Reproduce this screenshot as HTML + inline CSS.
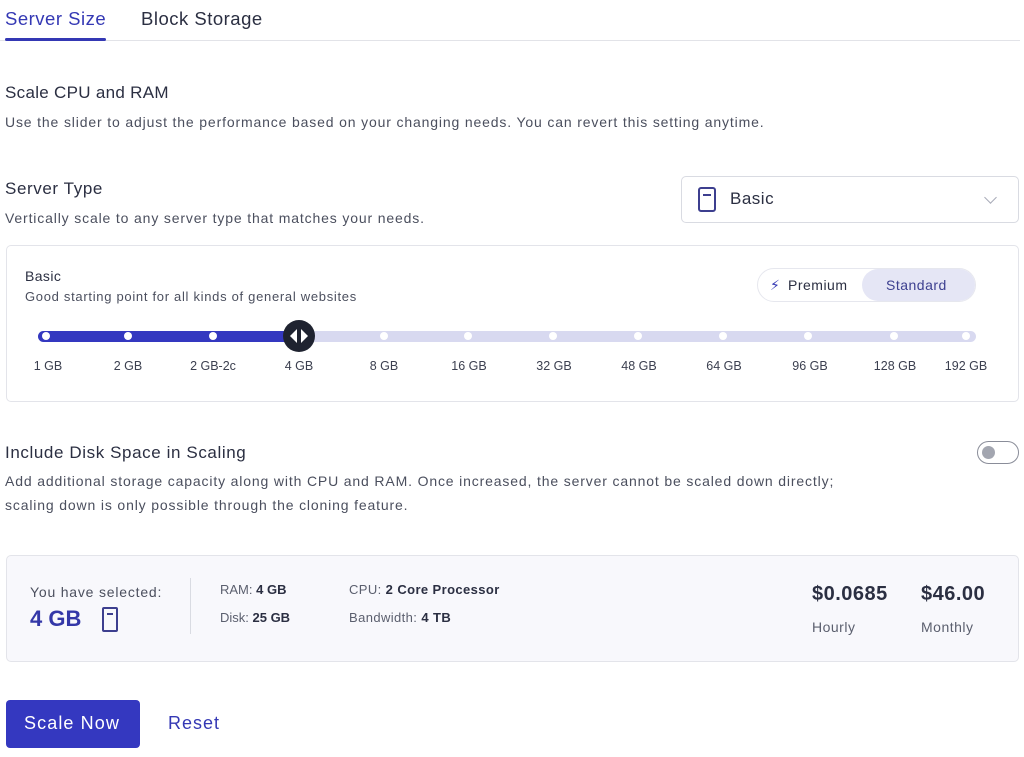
<!DOCTYPE html>
<html><head><meta charset="utf-8"><style>
*{margin:0;padding:0;box-sizing:border-box}
body{width:1024px;height:757px;background:#fff;font-family:"Liberation Sans",sans-serif;color:#2b2f42;position:relative;overflow:hidden}
.a{position:absolute;white-space:nowrap}
.t{font-size:17px;color:#2b2f42;letter-spacing:0.3px}
.s{font-size:14px;color:#4b4f5e;letter-spacing:0.85px}
.lab{position:absolute;top:359px;font-size:12.5px;color:#3c4050;transform:translateX(-50%)}
.dot{position:absolute;top:332px;width:8px;height:8px;border-radius:50%;background:#fff;transform:translateX(-50%)}
</style></head><body>
<div class="a" style="left:5px;top:8px;font-size:18.5px;color:#3438b4;letter-spacing:0.5px">Server Size</div>
<div class="a" style="left:141px;top:8px;font-size:18.5px;color:#2b2f42;letter-spacing:0.5px">Block Storage</div>
<div class="a" style="left:0;top:40px;width:1020px;height:1px;background:#e2e3e8"></div>
<div class="a" style="left:5px;top:38px;width:101px;height:3px;background:#3438b4;border-radius:2px"></div>

<div class="a t" style="left:5px;top:83px">Scale CPU and RAM</div>
<div class="a s" style="left:5px;top:114px">Use the slider to adjust the performance based on your changing needs. You can revert this setting anytime.</div>

<div class="a t" style="left:5px;top:179px;letter-spacing:0.6px">Server Type</div>
<div class="a s" style="left:5px;top:210px">Vertically scale to any server type that matches your needs.</div>

<div class="a" style="left:681px;top:176px;width:338px;height:47px;border:1px solid #d9dbe2;border-radius:5px"></div>
<div class="a" style="left:698px;top:187px;width:18px;height:25px;border:2.5px solid #3d3f8f;border-radius:3px"></div>
<div class="a" style="left:703px;top:194px;width:8px;height:2px;background:#3d3f8f"></div>
<div class="a" style="left:730px;top:189px;font-size:17px;color:#2b2f42;letter-spacing:0.5px">Basic</div>
<div class="a" style="left:986px;top:193px;width:9px;height:9px;border-right:1.5px solid #a8abb8;border-bottom:1.5px solid #a8abb8;transform:rotate(45deg)"></div>

<div class="a" style="left:6px;top:245px;width:1013px;height:157px;border:1px solid #e3e4ea;border-radius:5px"></div>
<div class="a" style="left:25px;top:268px;font-size:14px;color:#2b2f42;letter-spacing:0.4px">Basic</div>
<div class="a" style="left:25px;top:289px;font-size:13px;color:#4b4f5e;letter-spacing:0.7px">Good starting point for all kinds of general websites</div>

<div class="a" style="left:757px;top:268px;width:219px;height:34px;border:1px solid #e6e7ee;border-radius:17px"></div>
<div class="a" style="left:862px;top:269px;width:113px;height:32px;background:#e5e6f5;border-radius:16px"></div>
<div class="a" style="left:770px;top:277px;font-size:14px;color:#3438b4">&#9889;&#xFE0E;</div>
<div class="a" style="left:788px;top:277px;font-size:14px;color:#2b2f42;letter-spacing:0.5px">Premium</div>
<div class="a" style="left:886px;top:277px;font-size:14px;color:#3d4090;letter-spacing:0.5px">Standard</div>

<div class="a" style="left:38px;top:331px;width:938px;height:11px;background:#d8d9f0;border-radius:6px"></div>
<div class="a" style="left:38px;top:331px;width:262px;height:11px;background:#3438c0;border-radius:6px 0 0 6px"></div>
<div class="dot" style="left:46px"></div><div class="dot" style="left:128px"></div><div class="dot" style="left:213px"></div>
<div class="dot" style="left:384px"></div><div class="dot" style="left:468px"></div><div class="dot" style="left:553px"></div>
<div class="dot" style="left:638px"></div><div class="dot" style="left:723px"></div><div class="dot" style="left:808px"></div>
<div class="dot" style="left:894px"></div><div class="dot" style="left:966px"></div>
<div class="a" style="left:283px;top:320px;width:32px;height:32px;border-radius:50%;background:#1f2330"></div>
<div class="a" style="left:290px;top:329px;width:0;height:0;border-top:7px solid transparent;border-bottom:7px solid transparent;border-right:7px solid #fff"></div>
<div class="a" style="left:301px;top:329px;width:0;height:0;border-top:7px solid transparent;border-bottom:7px solid transparent;border-left:7px solid #fff"></div>

<div class="lab" style="left:48px">1 GB</div><div class="lab" style="left:128px">2 GB</div><div class="lab" style="left:213px">2 GB-2c</div>
<div class="lab" style="left:299px">4 GB</div><div class="lab" style="left:384px">8 GB</div><div class="lab" style="left:469px">16 GB</div>
<div class="lab" style="left:554px">32 GB</div><div class="lab" style="left:639px">48 GB</div><div class="lab" style="left:724px">64 GB</div>
<div class="lab" style="left:810px">96 GB</div><div class="lab" style="left:895px">128 GB</div><div class="lab" style="left:966px">192 GB</div>

<div class="a t" style="left:5px;top:443px;letter-spacing:0.6px">Include Disk Space in Scaling</div>
<div class="a" style="left:977px;top:441px;width:42px;height:23px;border:1.5px solid #8a8d99;border-radius:12px"></div>
<div class="a" style="left:982px;top:446px;width:13px;height:13px;border-radius:50%;background:#a3a6b0"></div>
<div class="a s" style="left:5px;top:473px">Add additional storage capacity along with CPU and RAM. Once increased, the server cannot be scaled down directly;</div>
<div class="a s" style="left:5px;top:497px">scaling down is only possible through the cloning feature.</div>

<div class="a" style="left:6px;top:555px;width:1013px;height:107px;border:1px solid #e3e4ea;border-radius:5px;background:#f8f8fc"></div>
<div class="a" style="left:30px;top:584px;font-size:14px;color:#4b4f5e;letter-spacing:0.8px">You have selected:</div>
<div class="a" style="left:30px;top:606px;font-size:22px;font-weight:bold;color:#3438a8">4 GB</div>
<div class="a" style="left:102px;top:607px;width:16px;height:25px;border:2px solid #3d3f8f;border-radius:2px"></div>
<div class="a" style="left:107px;top:613px;width:6px;height:2px;background:#3d3f8f"></div>
<div class="a" style="left:190px;top:578px;width:1px;height:56px;background:#d9dbe2"></div>
<div class="a" style="left:220px;top:582px;font-size:13px;color:#5b5f6e">RAM: <b style="color:#2b2f42">4 GB</b></div>
<div class="a" style="left:220px;top:610px;font-size:13px;color:#5b5f6e">Disk: <b style="color:#2b2f42">25 GB</b></div>
<div class="a" style="left:349px;top:582px;font-size:13px;color:#5b5f6e;letter-spacing:0.4px">CPU: <b style="color:#2b2f42">2 Core Processor</b></div>
<div class="a" style="left:349px;top:610px;font-size:13px;color:#5b5f6e;letter-spacing:0.4px">Bandwidth: <b style="color:#2b2f42">4 TB</b></div>
<div class="a" style="left:812px;top:583px;font-size:20px;font-weight:bold;color:#2b2f42;letter-spacing:0.5px">$0.0685</div>
<div class="a" style="left:921px;top:583px;font-size:20px;font-weight:bold;color:#2b2f42;letter-spacing:0.5px">$46.00</div>
<div class="a" style="left:812px;top:619px;font-size:14px;color:#5b5f6e;letter-spacing:0.5px">Hourly</div>
<div class="a" style="left:921px;top:619px;font-size:14px;color:#5b5f6e;letter-spacing:0.5px">Monthly</div>

<div class="a" style="left:6px;top:700px;width:134px;height:48px;background:#3438c0;border-radius:4px"></div>
<div class="a" style="left:24px;top:713px;font-size:18px;color:#fff;letter-spacing:1.1px">Scale Now</div>
<div class="a" style="left:168px;top:713px;font-size:18px;color:#3438b4;letter-spacing:1px">Reset</div>
</body></html>
